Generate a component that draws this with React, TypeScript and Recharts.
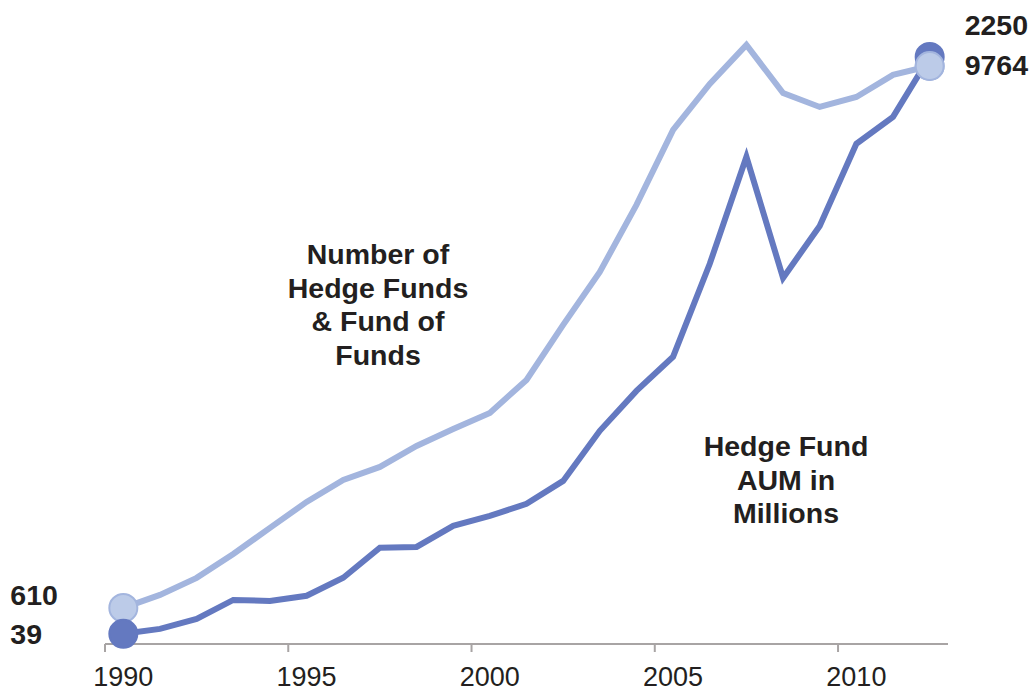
import { LabelList, Line, LineChart, XAxis, YAxis } from "recharts";

const years = [
  "1990", "1991", "1992", "1993", "1994", "1995", "1996", "1997", "1998", "1999", "2000",
  "2001", "2002", "2003", "2004", "2005", "2006", "2007", "2008", "2009", "2010", "2011", "2012",
];
// hedge fund AUM
const aum = [
  39, 58, 96, 169, 165, 185, 254, 369, 372, 453, 491, 537, 625, 817, 970, 1101, 1457, 1867,
  1403, 1602, 1917, 2020, 2250,
];
// number of hedge funds & fund of funds
const funds = [
  610, 830, 1117, 1522, 1961, 2400, 2772, 2991, 3346, 3633, 3904, 4461, 5390, 6285, 7417, 8683,
  9460, 10119, 9308, 9072, 9241, 9613, 9764,
];
const yearTicks = ["1990", "1995", "2000", "2005", "2010"];

const W = 1033;
const H = 692;
const M = { top: 30, right: 85, bottom: 8, left: 105 };
const band = (W - M.left - M.right) / years.length;

const DARK = "#6479c0";
const LIGHT = "#a3b5de";
const AXIS = "#a8a4a4";
const INK = "#231f20";

const data = years.map((year, i) => ({ year, aum: aum[i], funds: funds[i] }));

function YearTick({ x, y, payload }: any) {
  return (
    <g>
      <line x1={x - band / 2} x2={x - band / 2} y1={y} y2={y + 8} stroke={AXIS} strokeWidth={2} />
      <text x={x} y={y + 42} textAnchor="middle" fontSize={27} fill={INK}>
        {payload.value}
      </text>
    </g>
  );
}

function endDot(fill: string, stroke: string) {
  return (p: any) => {
    const { cx, cy, index } = p;
    if (index !== 0 && index !== years.length - 1) return <g key={index} />;
    return <circle key={index} cx={cx} cy={cy} r={14} fill={fill} stroke={stroke} strokeWidth={2} />;
  };
}

function endLabel(firstDy: number, lastDy: number) {
  return (p: any) => {
    const { x, y, value, index } = p;
    const style = { fontSize: 28.5, fontWeight: 700, fill: INK };
    if (index === 0)
      return (
        <text x={x - 113} y={y + firstDy} {...style}>
          {value}
        </text>
      );
    if (index === years.length - 1)
      return (
        <text x={x + 35} y={y + lastDy} {...style}>
          {value}
        </text>
      );
    return null;
  };
}

const note = {
  position: "absolute" as const,
  width: 240,
  fontSize: 28.5,
  fontWeight: 700,
  lineHeight: "33.5px",
  textAlign: "center" as const,
  color: INK,
};

export default function App() {
  return (
    <div
      style={{
        position: "absolute",
        left: 0,
        top: 0,
        width: W,
        height: H,
        background: "#fff",
        fontFamily: "'Liberation Sans', Arial, sans-serif",
      }}
    >
      <LineChart width={W} height={H} data={data} margin={M}>
        <XAxis
          dataKey="year"
          scale="band"
          ticks={yearTicks}
          interval={0}
          height={40}
          tickSize={0}
          tickMargin={0}
          tickLine={false}
          axisLine={{ stroke: AXIS, strokeWidth: 2 }}
          tick={<YearTick />}
        />
        <YAxis yAxisId="aum" hide domain={[0, 2353]} />
        <YAxis yAxisId="funds" hide domain={[0, 10372]} />
        <Line
          yAxisId="funds"
          dataKey="funds"
          type="linear"
          stroke={LIGHT}
          strokeWidth={6}
          dot={endDot("#bccbe8", LIGHT)}
          activeDot={false}
          isAnimationActive={false}
        >
          <LabelList dataKey="funds" content={endLabel(-3, 9)} />
        </Line>
        <Line
          yAxisId="aum"
          dataKey="aum"
          type="linear"
          stroke={DARK}
          strokeWidth={6}
          dot={false}
          activeDot={false}
          isAnimationActive={false}
        >
          <LabelList dataKey="aum" content={endLabel(10, -22)} />
        </Line>
        <Line
          yAxisId="aum"
          dataKey="aum"
          type="linear"
          stroke="none"
          dot={endDot(DARK, DARK)}
          activeDot={false}
          isAnimationActive={false}
        />
        <Line
          yAxisId="funds"
          dataKey="funds"
          type="linear"
          stroke="none"
          dot={(p: any) =>
            p.index === years.length - 1 ? (
              <circle key={p.index} cx={p.cx} cy={p.cy} r={14} fill="#bccbe8" stroke={LIGHT} strokeWidth={2} />
            ) : (
              <g key={p.index} />
            )
          }
          activeDot={false}
          isAnimationActive={false}
        />
      </LineChart>
      <div style={{ ...note, left: 258, top: 238 }}>
        Number of
        <br />
        Hedge Funds
        <br />
        &amp; Fund of
        <br />
        Funds
      </div>
      <div style={{ ...note, left: 666, top: 430 }}>
        Hedge Fund
        <br />
        AUM in
        <br />
        Millions
      </div>
    </div>
  );
}
